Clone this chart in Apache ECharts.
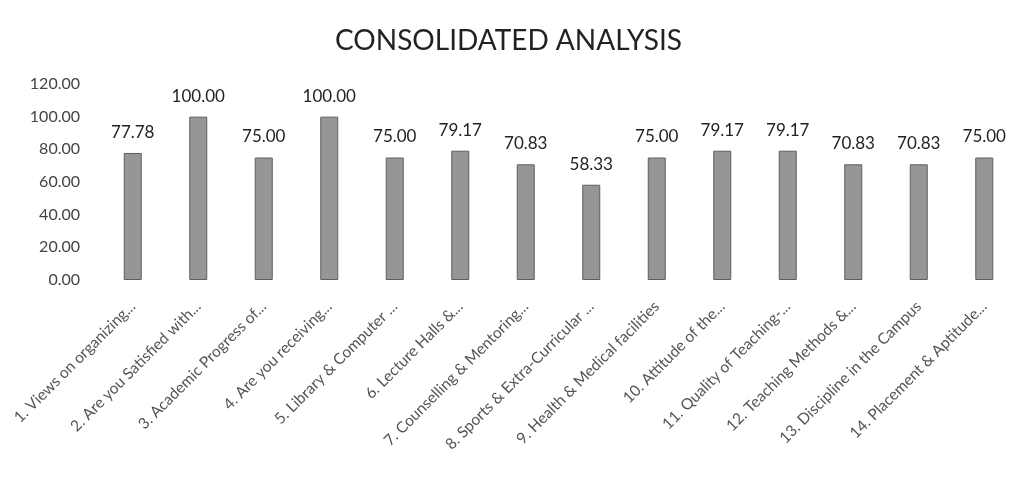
<!DOCTYPE html>
<html><head><meta charset="utf-8">
<script src="https://cdn.jsdelivr.net/npm/echarts@6/dist/echarts.min.js"></script>
<style>html,body{margin:0;padding:0;background:#fff}#c{width:1017px;height:491px}</style>
</head><body><div id="c"></div>
<script>
const categories = [
  "1. Views on organizing...",
  "2. Are you Satisfied with...",
  "3. Academic Progress of...",
  "4. Are you receiving...",
  "5. Library & Computer ...",
  "6. Lecture Halls &...",
  "7. Counselling & Mentoring...",
  "8. Sports & Extra-Curricular ...",
  "9. Health & Medical facilities",
  "10. Attitude of the...",
  "11. Quality of Teaching-...",
  "12. Teaching Methods &...",
  "13. Discipline in the Campus",
  "14. Placement & Aptitude..."
];
const values = [77.78, 100.00, 75.00, 100.00, 75.00, 79.17, 70.83, 58.33, 75.00, 79.17, 79.17, 70.83, 70.83, 75.00];
const titleText = "CONSOLIDATED ANALYSIS";

const chart = echarts.init(document.getElementById('c'));
chart.setOption({
  animation: false,
  backgroundColor: '#fff',
  title: {
    text: titleText, left: 'center', top: 22,
    textStyle: { fontFamily: 'Lato', fontWeight: 'normal', fontSize: 28, color: '#222' }
  },
  grid: { left: 100, right: -2, top: 84, bottom: 211 },
  xAxis: {
    type: 'category', data: categories,
    axisLine: { show: false }, axisTick: { show: false },
    axisLabel: { interval: 0, rotate: 45, margin: 24, fontFamily: 'Lato', fontSize: 15.5, color: '#555' }
  },
  yAxis: {
    type: 'value', min: 0, max: 120, interval: 20,
    axisLine: { show: false }, axisTick: { show: false },
    splitLine: { show: false },
    axisLabel: { margin: 20, fontFamily: 'Lato', fontSize: 16, color: '#444', formatter: v => v.toFixed(2) }
  },
  series: [{
    type: 'bar', data: values, barWidth: 18,
    itemStyle: { color: '#969696', borderColor: '#5e5e5e', borderWidth: 1 },
    label: { show: true, position: 'top', distance: 12, fontFamily: 'Lato', fontSize: 17, color: '#222',
      formatter: p => p.value.toFixed(2) }
  }]
});
</script></body></html>
